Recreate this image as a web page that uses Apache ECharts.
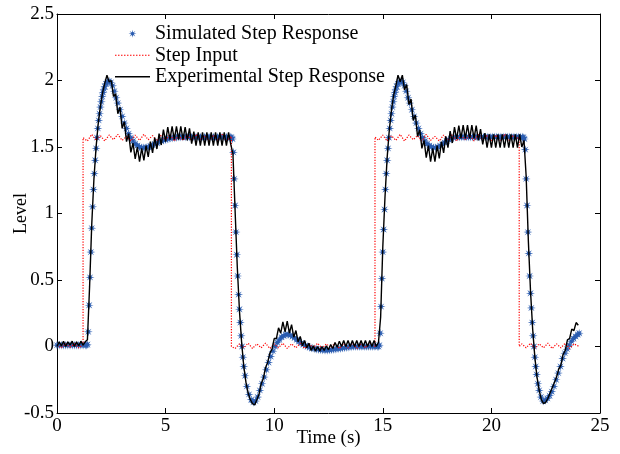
<!DOCTYPE html>
<html><head><meta charset="utf-8">
<script src="https://cdn.jsdelivr.net/npm/echarts@6/dist/echarts.min.js"></script>
<style>html,body{margin:0;padding:0;background:#fff}#c{width:620px;height:454px}</style>
</head><body><div id="c"></div>
<script>
// ---- data ----
const seriesNames = ['Simulated Step Response', 'Step Input', 'Experimental Step Response'];
const xTickLabels = ['0', '5', '10', '15', '20', '25'];
const yTickLabels = ['-0.5', '0', '0.5', '1', '1.5', '2', '2.5'];

// Simulated response: [time (s), level]
const simulated = [
[0.0,0.01],[0.1,0.01],[0.2,0.01],[0.3,0.01],[0.4,0.01],[0.5,0.01],[0.6,0.01],[0.7,0.01],[0.8,0.01],[0.9,0.01],
[1.0,0.01],[1.1,0.01],[1.2,0.01],[1.3,0.01],[1.36,0.01],
[1.40,0.015],[1.44,0.11],[1.48,0.31],[1.52,0.52],[1.56,0.71],[1.60,0.89],[1.64,1.05],[1.68,1.18],[1.72,1.30],[1.76,1.40],
[1.80,1.49],[1.84,1.57],[1.88,1.64],[1.92,1.70],[1.96,1.75],[2.00,1.80],[2.04,1.84],[2.08,1.88],[2.12,1.91],[2.16,1.935],
[2.20,1.955],[2.26,1.975],[2.32,1.99],[2.40,1.995],[2.48,1.985],[2.56,1.96],[2.64,1.92],[2.72,1.87],[2.80,1.83],[2.90,1.78],
[3.00,1.73],[3.10,1.68],[3.20,1.64],[3.30,1.60],[3.40,1.57],[3.50,1.545],[3.60,1.525],[3.70,1.51],[3.80,1.50],[3.90,1.495],
[4.00,1.495],[4.10,1.497],[4.20,1.50],[4.30,1.507],[4.40,1.515],[4.50,1.522],[4.60,1.53],[4.70,1.538],[4.80,1.545],[4.90,1.55],
[5.00,1.555],[5.10,1.56],[5.20,1.565],[5.30,1.568],[5.40,1.57],[5.50,1.572],[5.60,1.575],[5.70,1.575],[5.80,1.575],[5.90,1.575],
[6.00,1.575],[6.10,1.575],[6.20,1.575],[6.30,1.575],[6.40,1.575],[6.50,1.575],[6.60,1.575],[6.70,1.575],[6.80,1.575],[6.90,1.575],
[7.00,1.575],[7.10,1.575],[7.20,1.575],[7.30,1.575],[7.40,1.575],[7.50,1.575],[7.60,1.575],[7.70,1.575],[7.80,1.575],[7.90,1.575],
[8.00,1.575],[8.04,1.57],[8.08,1.56],[8.12,1.46],[8.16,1.26],[8.20,1.06],[8.24,0.86],[8.28,0.69],[8.32,0.53],[8.36,0.39],
[8.40,0.28],[8.44,0.18],[8.48,0.08],[8.52,0.0],[8.56,-0.08],[8.60,-0.15],[8.66,-0.22],[8.74,-0.30],[8.84,-0.36],[8.94,-0.40],
[9.04,-0.42],[9.14,-0.41],[9.24,-0.38],[9.34,-0.33],[9.44,-0.28],[9.54,-0.23],[9.64,-0.175],[9.74,-0.12],[9.84,-0.075],[9.94,-0.035],
[10.04,0.0],[10.14,0.03],[10.24,0.05],[10.34,0.07],[10.44,0.08],[10.54,0.09],[10.64,0.09],[10.74,0.085],[10.84,0.075],[10.94,0.065],
[11.04,0.05],[11.14,0.037],[11.24,0.025],[11.34,0.015],[11.44,0.007],[11.54,0.0],[11.64,-0.007],[11.74,-0.012],[11.84,-0.017],[11.94,-0.02],
[12.04,-0.022],[12.14,-0.025],[12.24,-0.027],[12.34,-0.028],[12.44,-0.028],[12.54,-0.027],[12.64,-0.025],[12.74,-0.022],[12.84,-0.02],[12.94,-0.017],
[13.04,-0.015],[13.14,-0.012],[13.24,-0.01],[13.34,-0.007],[13.44,-0.005],[13.54,-0.003],[13.64,0.0],[13.74,0.0],[13.84,0.0],[13.94,0.0],
[14.04,0.0],[14.14,0.0],[14.24,0.0],[14.34,0.0],[14.44,0.0],[14.54,0.0],[14.64,0.0],[14.74,0.0],[14.80,0.0],
[14.84,0.01],[14.88,0.10],[14.92,0.30],[14.96,0.51],[15.00,0.71],[15.04,0.88],[15.08,1.03],[15.12,1.18],[15.16,1.30],[15.20,1.40],
[15.24,1.49],[15.28,1.57],[15.32,1.64],[15.36,1.70],[15.40,1.75],[15.44,1.80],[15.48,1.84],[15.52,1.88],[15.56,1.91],[15.60,1.935],
[15.64,1.955],[15.70,1.975],[15.76,1.99],[15.84,1.995],[15.92,1.985],[16.00,1.96],[16.08,1.92],[16.16,1.87],[16.24,1.83],[16.34,1.78],
[16.44,1.73],[16.54,1.68],[16.64,1.64],[16.74,1.60],[16.84,1.57],[16.94,1.545],[17.04,1.525],[17.14,1.51],[17.24,1.50],[17.34,1.495],
[17.44,1.495],[17.54,1.50],[17.64,1.51],[17.74,1.52],[17.84,1.535],[17.94,1.545],[18.04,1.555],[18.14,1.563],[18.24,1.57],[18.34,1.575],
[18.44,1.575],[18.54,1.575],[18.64,1.575],[18.74,1.575],[18.84,1.575],[18.94,1.575],[19.04,1.575],[19.14,1.575],[19.24,1.575],[19.34,1.575],
[19.44,1.575],[19.54,1.575],[19.64,1.575],[19.74,1.575],[19.84,1.575],[19.94,1.575],[20.04,1.575],[20.14,1.575],[20.24,1.575],[20.34,1.575],
[20.44,1.575],[20.54,1.575],[20.64,1.575],[20.74,1.575],[20.84,1.575],[20.94,1.575],[21.04,1.575],[21.14,1.575],[21.24,1.575],[21.34,1.575],
[21.44,1.575],[21.48,1.57],[21.52,1.56],[21.56,1.48],[21.60,1.26],[21.64,1.06],[21.68,0.86],[21.72,0.70],[21.76,0.53],[21.80,0.40],
[21.84,0.29],[21.88,0.18],[21.92,0.08],[21.96,0.0],[22.00,-0.08],[22.04,-0.15],[22.08,-0.21],[22.14,-0.28],[22.20,-0.33],[22.28,-0.38],
[22.38,-0.41],[22.48,-0.405],[22.58,-0.39],[22.68,-0.37],[22.78,-0.34],[22.88,-0.30],[22.98,-0.25],[23.08,-0.20],[23.18,-0.15],[23.28,-0.09],
[23.38,-0.05],[23.48,-0.02],[23.58,0.01],[23.68,0.04],[23.78,0.06],[23.88,0.075],[23.98,0.09],[24.04,0.10]
];

// Step input: [time (s), level]
const stepInput = [
[0.0,0.01],[0.2,-0.01],[0.4,0.02],[0.6,-0.005],[0.8,0.02],[1.0,-0.01],[1.2,0.015],
[1.2,1.57],[1.4,1.545],[1.6,1.595],[1.8,1.55],[2.0,1.585],[2.2,1.545],[2.4,1.59],[2.6,1.555],[2.8,1.595],[3.0,1.55],
[3.2,1.58],[3.4,1.545],[3.6,1.59],[3.8,1.55],[4.0,1.595],[4.2,1.555],[4.4,1.585],[4.6,1.545],[4.8,1.59],[5.0,1.55],
[5.2,1.595],[5.4,1.545],[5.6,1.585],[5.8,1.55],[6.0,1.59],[6.2,1.545],[6.4,1.595],[6.6,1.555],[6.8,1.585],[7.0,1.545],
[7.2,1.59],[7.4,1.55],[7.6,1.595],[7.8,1.545],[8.03,1.58],
[8.03,0.0],[8.2,-0.015],[8.4,0.02],[8.6,-0.01],[8.8,0.025],[9.0,-0.015],[9.2,0.02],[9.4,-0.01],[9.6,0.025],[9.8,-0.015],
[10.0,0.02],[10.2,-0.01],[10.4,0.025],[10.6,-0.015],[10.8,0.02],[11.0,-0.01],[11.2,0.025],[11.4,-0.015],[11.6,0.02],[11.8,-0.01],
[12.0,0.025],[12.2,-0.015],[12.4,0.02],[12.6,-0.01],[12.8,0.025],[13.0,-0.015],[13.2,0.02],[13.4,-0.01],[13.6,0.025],[13.8,-0.015],
[14.0,0.02],[14.2,-0.01],[14.4,0.025],[14.64,0.0],
[14.64,1.575],[14.8,1.55],[15.0,1.59],[15.2,1.545],[15.4,1.585],[15.6,1.55],[15.8,1.595],[16.0,1.545],[16.2,1.59],[16.4,1.555],
[16.6,1.585],[16.8,1.545],[17.0,1.595],[17.2,1.55],[17.4,1.58],[17.6,1.545],[17.8,1.59],[18.0,1.55],[18.2,1.595],[18.4,1.545],
[18.6,1.585],[18.8,1.555],[19.0,1.59],[19.2,1.545],[19.4,1.595],[19.6,1.55],[19.8,1.585],[20.0,1.545],[20.2,1.59],[20.4,1.55],
[20.6,1.595],[20.8,1.545],[21.0,1.585],[21.28,1.56],
[21.28,0.0],[21.4,0.02],[21.6,-0.01],[21.8,0.025],[22.0,-0.015],[22.2,0.02],[22.4,-0.01],[22.6,0.025],[22.8,-0.015],[23.0,0.02],
[23.2,-0.01],[23.4,0.025],[23.6,-0.015],[23.8,0.02],[24.04,0.0]
];

// Experimental response, sampled every 0.1 s starting at 0 s
const expStart = 0, expStep = 0.1;
const experimental = [
0.00,0.035,0.005,0.04,0.00,0.035,0.01,0.04,0.00,0.035,
0.005,0.04,0.01,0.035,0.05,0.45,0.92,1.26,1.50,1.68,
1.81,1.91,1.98,2.04,1.99,2.00,1.88,1.90,1.75,1.80,
1.64,1.69,1.54,1.60,1.46,1.53,1.41,1.50,1.39,1.49,
1.40,1.51,1.425,1.54,1.455,1.57,1.485,1.60,1.515,1.63,
1.54,1.65,1.555,1.655,1.555,1.655,1.555,1.655,1.555,1.65,
1.55,1.64,1.525,1.615,1.51,1.61,1.51,1.61,1.51,1.61,
1.51,1.61,1.51,1.61,1.51,1.61,1.51,1.61,1.51,1.61,
1.52,1.45,1.02,0.60,0.27,0.03,-0.15,-0.27,-0.35,-0.40,
-0.43,-0.44,-0.40,-0.36,-0.28,-0.24,-0.16,-0.12,-0.05,-0.02,
0.06,0.06,0.14,0.10,0.185,0.11,0.19,0.10,0.165,0.07,
0.12,0.035,0.075,0.005,0.045,-0.01,0.025,-0.03,0.005,-0.035,
0.0,-0.035,0.0,-0.03,0.005,-0.025,0.015,-0.015,0.03,-0.005,
0.04,0.0,0.045,0.0,0.045,0.0,0.045,0.0,0.045,0.0,
0.045,0.0,0.045,0.0,0.045,0.0,0.045,0.0,0.03,0.22,
0.75,1.12,1.42,1.63,1.78,1.89,1.96,2.04,1.99,2.04,
1.93,1.97,1.82,1.86,1.70,1.74,1.58,1.63,1.49,1.55,
1.42,1.51,1.39,1.49,1.39,1.51,1.415,1.54,1.455,1.58,
1.495,1.62,1.53,1.65,1.56,1.66,1.565,1.665,1.565,1.665,
1.565,1.665,1.565,1.66,1.55,1.635,1.52,1.605,1.495,1.595,
1.495,1.595,1.495,1.595,1.495,1.595,1.495,1.595,1.495,1.595,
1.495,1.595,1.495,1.595,1.50,1.55,1.28,0.80,0.42,0.13,
-0.08,-0.23,-0.33,-0.40,-0.43,-0.42,-0.39,-0.35,-0.31,-0.27,
-0.23,-0.17,-0.14,-0.06,-0.03,0.05,0.06,0.13,0.12,0.18,
0.16
];

// ---- chart ----
const FONT = '"Liberation Serif", "Times New Roman", serif';
const STAR = 'path://M10,0L11.34,6.77L17.07,2.93L13.23,8.66L20,10L13.23,11.34L17.07,17.07L11.34,13.23L10,20L8.66,13.23L2.93,17.07L6.77,11.34L0,10L6.77,8.66L2.93,2.93L8.66,6.77Z';
// legend glyphs: solid bar and dotted bar (style only)
const SOLID_ICON = 'path://M0,0H35V1.3H0Z';
let dots = '';
for (let k = 0; k < 12; k++) dots += 'M' + (k * 3) + ',0h1.5v1.2h-1.5z';
const DOTTED_ICON = 'path://' + dots + 'M35,0h0.01v1.2h-0.01z';

const expData = experimental.map((v, i) => [Math.round((expStart + i * expStep) * 10) / 10, v]);

const axisCommon = {
  type: 'value',
  axisLine: { show: true, onZero: false, lineStyle: { color: '#000', width: 1 } },
  axisTick: { show: true, inside: true, length: 5, lineStyle: { color: '#000', width: 1 } },
  splitLine: { show: false }
};
const chart = echarts.init(document.getElementById('c'), null, { renderer: 'canvas' });
chart.setOption({
  animation: false,
  backgroundColor: '#fff',
  grid: { left: 57, right: 20, top: 14, bottom: 41, containLabel: false, outerBoundsMode: 'none' },
  legend: {
    orient: 'vertical', left: 110, top: 18,
    itemWidth: 35, itemHeight: 8, itemGap: 0,
    textStyle: { fontFamily: FONT, fontSize: 20, color: '#000', lineHeight: 21.5 },
    data: [
      { name: seriesNames[0] },
      { name: seriesNames[1], icon: DOTTED_ICON, itemStyle: { color: '#ff0000' } },
      { name: seriesNames[2], icon: SOLID_ICON, itemStyle: { color: '#000' } }
    ]
  },
  xAxis: [
    Object.assign({}, axisCommon, {
      min: 0, max: 25, interval: 5, position: 'bottom',
      axisLabel: { color: '#000', fontFamily: FONT, fontSize: 19, margin: 4,
        formatter: (v) => xTickLabels[Math.round(v / 5)] },
      name: 'Time (s)', nameLocation: 'middle', nameGap: 16, nameMoveOverlap: false,
      nameTextStyle: { color: '#000', fontFamily: FONT, fontSize: 19 }
    }),
    Object.assign({}, axisCommon, {
      min: 0, max: 25, interval: 5, position: 'top', axisLabel: { show: false }
    })
  ],
  yAxis: [
    Object.assign({}, axisCommon, {
      min: -0.5, max: 2.5, interval: 0.5, position: 'left',
      axisLabel: { color: '#000', fontFamily: FONT, fontSize: 19, margin: 3,
        formatter: (v) => yTickLabels[Math.round((v + 0.5) / 0.5)] },
      name: 'Level', nameLocation: 'middle', nameGap: 27, nameMoveOverlap: false,
      nameTextStyle: { color: '#000', fontFamily: FONT, fontSize: 18 }
    }),
    Object.assign({}, axisCommon, {
      min: -0.5, max: 2.5, interval: 0.5, position: 'right', axisLabel: { show: false }
    })
  ],
  series: [
    {
      name: seriesNames[0], type: 'scatter', xAxisIndex: 0, yAxisIndex: 0,
      symbol: STAR, symbolSize: 9,
      itemStyle: { color: '#2a5cb0', opacity: 1 },
      data: simulated, z: 2
    },
    {
      name: seriesNames[1], type: 'line', xAxisIndex: 0, yAxisIndex: 0,
      symbol: 'none', showSymbol: false,
      lineStyle: { color: '#ff0000', width: 1.2, type: [1.2, 1.5] },
      itemStyle: { color: '#ff0000' },
      data: stepInput, z: 3
    },
    {
      name: seriesNames[2], type: 'line', xAxisIndex: 0, yAxisIndex: 0,
      symbol: 'none', showSymbol: false,
      lineStyle: { color: '#000', width: 1.4 },
      itemStyle: { color: '#000' },
      data: expData, z: 4
    }
  ]
});
</script>
</body></html>
